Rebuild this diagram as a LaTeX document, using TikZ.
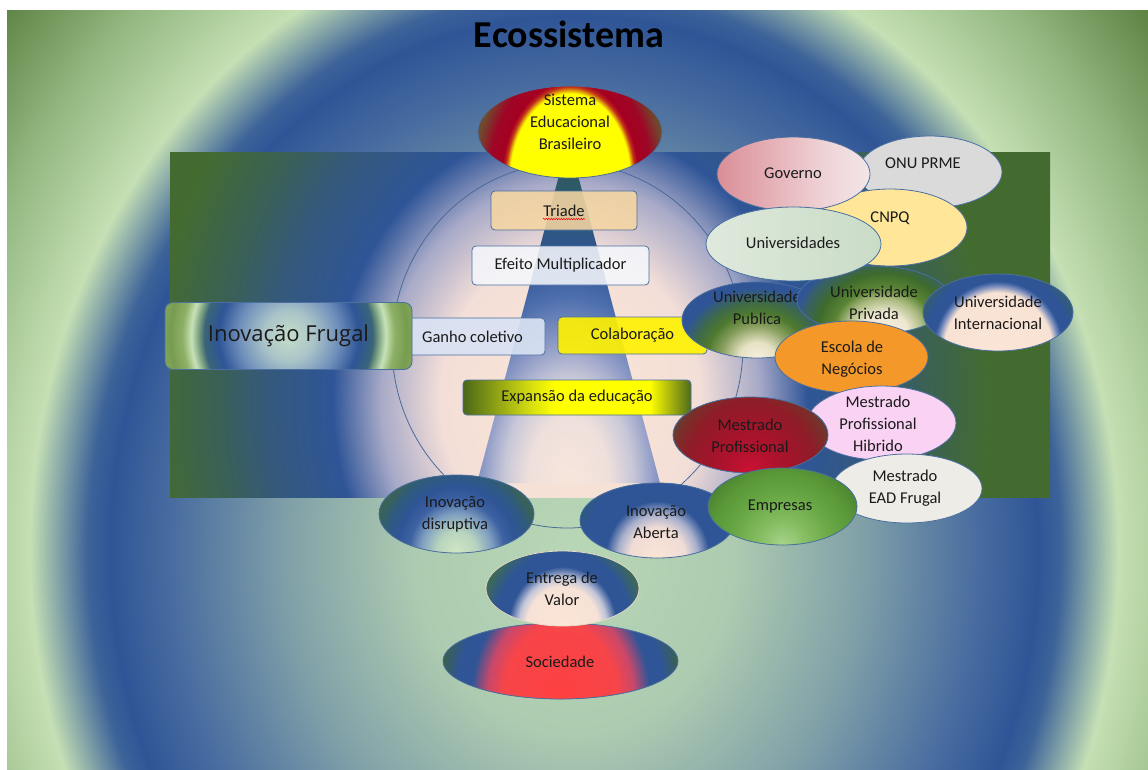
\documentclass[tikz,border=0pt]{standalone}
\usepackage{fontspec}
\setmainfont{Carlito}
\newfontfamily\frugalfont{Open Sans}
\usetikzlibrary{shapes.geometric,decorations.pathmorphing}

\definecolor{edgec}{HTML}{4A6FA0}
\definecolor{txtc}{HTML}{1A1A1A}
\definecolor{blueC}{HTML}{2F5597}
\definecolor{lgreen}{HTML}{C5E0B4}
\definecolor{peach}{HTML}{FBE5D6}
% background
\definecolor{bgA}{HTML}{B8D7B6}
\definecolor{bgB}{HTML}{ADCBB0}
\definecolor{bgC}{HTML}{80A0A8}
\definecolor{bgD}{HTML}{4A6EA0}
\definecolor{bgE}{HTML}{3D6399}
\definecolor{bgF}{HTML}{93B881}
\definecolor{bgG}{HTML}{5F8547}
\definecolor{bgH}{HTML}{56803E}
\pgfdeclareradialshading{bgsh}{\pgfpoint{0bp}{0bp}}{color(0bp)=(bgA);color(5bp)=(bgB);color(9bp)=(bgC);color(12.5bp)=(bgD);color(14.5bp)=(blueC);color(15.2bp)=(bgE);color(17bp)=(lgreen);color(20bp)=(bgF);color(23bp)=(bgG);color(25bp)=(bgH);color(50bp)=(bgH)}
% rectangle
\definecolor{rcB}{HTML}{F4DFD8}
\definecolor{rcC}{HTML}{A8AAC8}
\definecolor{rcD}{HTML}{34597C}
\definecolor{rcE}{HTML}{3A6058}
\definecolor{rcF}{HTML}{436B30}
\pgfdeclareradialshading{rectsh}{\pgfpoint{0bp}{0bp}}{color(0bp)=(peach);color(6bp)=(rcB);color(8.75bp)=(rcC);color(11bp)=(blueC);color(14bp)=(rcD);color(16.2bp)=(rcE);color(19.4bp)=(rcF);color(50bp)=(rcF)}
% trapezoid
\definecolor{tpA}{HTML}{F8E6DC}
\definecolor{tpB}{HTML}{EFE0DC}
\definecolor{tpC}{HTML}{C9C8D8}
\definecolor{tpD}{HTML}{8896C4}
\definecolor{tpE}{HTML}{4F70AE}
\definecolor{tpF}{HTML}{2E5870}
\definecolor{tpG}{HTML}{2E5A5E}
\pgfdeclareradialshading{trapsh}{\pgfpoint{0bp}{0bp}}{color(0bp)=(tpA);color(5bp)=(tpB);color(8bp)=(tpC);color(11bp)=(tpD);color(14bp)=(tpE);color(17bp)=(blueC);color(21bp)=(tpF);color(24bp)=(tpG);color(50bp)=(tpG)}
% sistema
\definecolor{sisO}{HTML}{C0301A}
\definecolor{sisR}{HTML}{A50021}
\definecolor{sisR2}{HTML}{9E0626}
\definecolor{sisB}{HTML}{6E4A2E}
\pgfdeclareradialshading{sissh}{\pgfpoint{0bp}{0bp}}{color(0bp)=(yellow);color(12.6bp)=(yellow);color(13.6bp)=(sisO);color(14.3bp)=(sisR);color(17bp)=(sisR2);color(20bp)=(sisB);color(50bp)=(sisB)}
% universidade publica
\definecolor{unA}{HTML}{F6EEE0}
\definecolor{unB}{HTML}{E6E2C4}
\definecolor{unC}{HTML}{8AA060}
\definecolor{unD}{HTML}{4E7A2E}
\definecolor{unE}{HTML}{3F6A48}
\definecolor{unF}{HTML}{2E5A72}
\pgfdeclareradialshading{unish}{\pgfpoint{0bp}{0bp}}{color(0bp)=(unA);color(3.8bp)=(unB);color(7.7bp)=(unC);color(10.8bp)=(unD);color(13.5bp)=(unE);color(16.9bp)=(blueC);color(19.2bp)=(blueC);color(23bp)=(unF);color(50bp)=(unF)}
% universidade privada
\definecolor{prB}{HTML}{EEE8D2}
\definecolor{prC}{HTML}{A9B97E}
\definecolor{prD}{HTML}{5A8434}
\definecolor{prE}{HTML}{3E6B2C}
\definecolor{prF}{HTML}{38606A}
\pgfdeclareradialshading{prish}{\pgfpoint{0bp}{0bp}}{color(0bp)=(unA);color(6bp)=(prB);color(10bp)=(prC);color(13bp)=(prD);color(17bp)=(prE);color(21bp)=(prF);color(23bp)=(blueC);color(50bp)=(blueC)}
% internacional
\definecolor{inA}{HTML}{F8E2D4}
\definecolor{inB}{HTML}{6A82B8}
\definecolor{inC}{HTML}{35606A}
\definecolor{inD}{HTML}{3A6458}
\pgfdeclareradialshading{intsh}{\pgfpoint{0bp}{0bp}}{color(0bp)=(peach);color(14.5bp)=(inA);color(16.3bp)=(inB);color(17.3bp)=(blueC);color(20bp)=(blueC);color(23bp)=(inC);color(25bp)=(inD);color(50bp)=(inD)}
% mestrado profissional
\definecolor{mpA}{HTML}{CC1236}
\definecolor{mpB}{HTML}{B3122D}
\definecolor{mpC}{HTML}{A0152A}
\definecolor{mpD}{HTML}{8E1D28}
\definecolor{mpE}{HTML}{7A2E2A}
\definecolor{mpF}{HTML}{55483A}
\pgfdeclareradialshading{mpsh}{\pgfpoint{0bp}{0bp}}{color(0bp)=(mpA);color(5bp)=(mpB);color(10bp)=(mpC);color(15bp)=(mpD);color(18bp)=(mpE);color(21bp)=(mpF);color(50bp)=(mpF)}
% empresas
\definecolor{emA}{HTML}{A8D48C}
\definecolor{emB}{HTML}{86BD62}
\definecolor{emC}{HTML}{6AA946}
\definecolor{emD}{HTML}{5A9838}
\definecolor{emE}{HTML}{4C8530}
\pgfdeclareradialshading{emsh}{\pgfpoint{0bp}{0bp}}{color(0bp)=(emA);color(6bp)=(emB);color(12bp)=(emC);color(18bp)=(emD);color(22bp)=(emE);color(50bp)=(emE)}
% disruptiva
\definecolor{diA}{HTML}{D2E8C4}
\definecolor{diB}{HTML}{B8D4BE}
\definecolor{diC}{HTML}{7F9EC0}
\definecolor{diD}{HTML}{3E62A2}
\definecolor{diE}{HTML}{2F5A80}
\definecolor{diF}{HTML}{3A6256}
\pgfdeclareradialshading{dish}{\pgfpoint{0bp}{0bp}}{color(0bp)=(diA);color(5bp)=(diB);color(9bp)=(diC);color(12bp)=(diD);color(15bp)=(blueC);color(18bp)=(diE);color(21bp)=(diF);color(50bp)=(diF)}
% aberta
\definecolor{abB}{HTML}{F0DCD6}
\definecolor{abC}{HTML}{A8B0CC}
\definecolor{abD}{HTML}{2E5A7A}
\pgfdeclareradialshading{absh}{\pgfpoint{0bp}{0bp}}{color(0bp)=(peach);color(7bp)=(abB);color(10bp)=(abC);color(13bp)=(blueC);color(19bp)=(blueC);color(22bp)=(abD);color(50bp)=(abD)}
% entrega
\definecolor{enB}{HTML}{F6E2D6}
\definecolor{enC}{HTML}{C0C4D8}
\definecolor{enD}{HTML}{3D6A56}
\definecolor{enE}{HTML}{E6DCC8}
\pgfdeclareradialshading{ensh}{\pgfpoint{0bp}{0bp}}{color(0bp)=(peach);color(9bp)=(enB);color(11bp)=(enC);color(13.5bp)=(blueC);color(17bp)=(blueC);color(21bp)=(enD);color(50bp)=(enD)}
% sociedade
\definecolor{soA}{HTML}{FF4040}
\definecolor{soB}{HTML}{F74549}
\definecolor{soC}{HTML}{C8486A}
\definecolor{soD}{HTML}{3A6050}
\pgfdeclareradialshading{sosh}{\pgfpoint{0bp}{0bp}}{color(0bp)=(soA);color(10.4bp)=(soB);color(13.3bp)=(soC);color(16.2bp)=(blueC);color(18.75bp)=(blueC);color(21.9bp)=(soD);color(50bp)=(soD)}
% inovacao frugal
\definecolor{frA}{HTML}{C5DEC9}
\definecolor{frB}{HTML}{AAC4C8}
\definecolor{frC}{HTML}{6F8FBB}
\definecolor{frD}{HTML}{3A6478}
\definecolor{frE}{HTML}{7AA080}
\definecolor{frF}{HTML}{C8E2B8}
\definecolor{frG}{HTML}{8DB066}
\definecolor{frH}{HTML}{779C50}
\definecolor{frI}{HTML}{86A860}
\pgfdeclareradialshading{frsh}{\pgfpoint{0bp}{0bp}}{color(0bp)=(frA);color(4.8bp)=(frB);color(9.6bp)=(frC);color(13.5bp)=(blueC);color(16.2bp)=(frD);color(17.3bp)=(frE);color(18.7bp)=(frF);color(20.4bp)=(frG);color(22.7bp)=(frH);color(25bp)=(frI);color(50bp)=(frI)}
% flat / linear
\definecolor{triC}{HTML}{F6D6A2}
\definecolor{efC}{HTML}{F4F6FB}
\definecolor{gaC}{HTML}{D9E2F3}
\definecolor{exL}{HTML}{4A6818}
\definecolor{exM}{HTML}{D8DF10}
\definecolor{exR}{HTML}{50691C}
\pgfdeclarehorizontalshading{expsh}{100bp}{color(0bp)=(exL);color(25bp)=(exL);color(40bp)=(exM);color(45bp)=(yellow);color(66bp)=(yellow);color(75bp)=(exR);color(100bp)=(exR)}
\definecolor{goA}{HTML}{DA8E97}
\definecolor{goB}{HTML}{EFD3D6}
\definecolor{goC}{HTML}{F3E6E8}
\pgfdeclarehorizontalshading{govsh}{100bp}{color(0bp)=(goA);color(25bp)=(goA);color(60bp)=(goB);color(75bp)=(goC);color(100bp)=(goC)}
\definecolor{usA}{HTML}{DFE9DC}
\definecolor{usB}{HTML}{C9DCC6}
\pgfdeclarehorizontalshading{ussh}{100bp}{color(0bp)=(usA);color(25bp)=(usA);color(75bp)=(usB);color(100bp)=(usB)}
\definecolor{onuC}{HTML}{DADADA}
\definecolor{cnC}{HTML}{FFE699}
\definecolor{esC}{HTML}{F5982A}
\definecolor{hiC}{HTML}{FAD2F4}
\definecolor{eaC}{HTML}{EEECE6}
\definecolor{circC}{HTML}{4A6A98}

\tikzset{
  ell/.style={ellipse, draw=edgec, line width=0.8pt, inner sep=0pt},
  esize/.style 2 args={minimum width=#1pt, minimum height=#2pt},
  pp/.style n args={3}{path picture={\shade[shading=#1] (path picture bounding box.south) ellipse (#2 and #3);}},
  txt/.style={text=txtc, font=\fontsize{16.5}{22}\selectfont, align=center, inner sep=0pt},
  box/.style={rectangle, rounded corners=4pt, draw=edgec, line width=0.8pt, inner sep=0pt,
    text=txtc, text opacity=1, font=\fontsize{16.5}{22}\selectfont},
  wavy/.style={draw=red, line width=0.5pt, decorate, decoration={snake, amplitude=0.7pt, segment length=2.5pt}},
}

\begin{document}
\begin{tikzpicture}[x=1pt,y=1pt]
\useasboundingbox (0,0) rectangle (1148,-769);
\fill[white] (0,0) rectangle (1148,-769);
% outer background
\begin{scope}
  \clip (7,-10) rectangle (1149,-770);
  \shade[shading=bgsh] (574,-550) ellipse (800 and 920);
\end{scope}
% inner rectangle
\begin{scope}
  \clip (170,-152) rectangle (1050,-497);
  \shade[shading=rectsh] (570,-400) ellipse (540 and 624);
\end{scope}
% circle
\draw[circC, line width=0.8pt] (567.5,-345.5) ellipse (175.5 and 182.5);
% trapezoid
\begin{scope}
  \clip (561,-168) -- (576,-168) -- (660,-483) -- (477,-483) -- cycle;
  \shade[shading=trapsh] (568.5,-483) ellipse (200 and 330);
\end{scope}

\node[font=\bfseries\fontsize{38}{40}\selectfont, text=black, anchor=base, inner sep=0pt] (title) at (569,-47) {Ecossistema};

% Sistema
\node[ell, esize={184}{92}, fill=sisB, pp={sissh}{119}{168}] (sis) at (570,-132) {};
\node[txt] (sist) at (570,-122) {Sistema\\Educacional\\Brasileiro};

% boxes
\node[box, minimum width=146pt, minimum height=39pt, fill=triC, fill opacity=0.88] (tri) at (564,-210.5) {Triade};
\draw[wavy] ([xshift=-21pt,yshift=-8.5pt]tri.center) -- ([xshift=21pt,yshift=-8.5pt]tri.center);
\node[box, minimum width=177pt, minimum height=39pt, fill=efC, fill opacity=0.88] (efe) at (560.5,-265.5) {Efeito Multiplicador};
\node[box, minimum width=145pt, minimum height=37pt, fill=gaC, fill opacity=0.92] (gan) at (472.5,-336.5) {Ganho coletivo};
\node[box, minimum width=149pt, minimum height=37pt, fill=yellow, fill opacity=0.9] (col) at (632.5,-335.5) {Colaboração};
\node[box, minimum width=228pt, minimum height=35pt, shading=expsh] (exp) at (577,-397.5) {Expansão da educação};
\node[box, rounded corners=8pt, minimum width=247pt, minimum height=67pt, fill=frI,
  path picture={\shade[shading=frsh] (path picture bounding box.center) circle (130);},
  font=\frugalfont\fontsize{22}{24}\selectfont] (fru) at (288.5,-336) {Inovação Frugal};

% right cluster
\node[ell, esize={144}{72}, fill=onuC] (onu) at (930,-172) {};
\node[txt] (onut) at (923,-163) {ONU PRME};
\node[ell, esize={154}{77}, fill=cnC] (cnp) at (890,-227.5) {};
\node[txt] (cnpt) at (890,-218) {CNPQ};
\node[ell, esize={153}{74}, shading=govsh] (gov) at (793.5,-174) {};
\node[txt] (govt) at (793,-173) {Governo};
\node[ell, esize={150}{76}, fill=unF, pp={unish}{117}{104}] (pub) at (757,-320) {};
\node[txt] (pubt) at (757,-308) {Universidade\\Publica};
\node[ell, esize={154}{68}, fill=blueC,
  path picture={\shade[shading=prish] ([xshift=10pt]path picture bounding box.south) ellipse (100 and 90);}] (pri) at (874,-300) {};
\node[txt] (prit) at (874,-302.5) {Universidade\\Privada};
\node[ell, esize={175}{74}, shading=ussh] (uni) at (793.5,-244) {};
\node[txt] (unit) at (793,-243) {Universidades};
\node[ell, esize={150}{77}, fill=inD, pp={intsh}{94}{101}] (int) at (998,-312.5) {};
\node[txt] (intt) at (998,-312.5) {Universidade\\Internacional};
\node[ell, esize={153}{72}, fill=esC] (esc) at (851.5,-357) {};
\node[txt] (esct) at (852,-359) {Escola de\\Negócios};
\node[ell, esize={149}{74}, fill=hiC] (hib) at (881.5,-423) {};
\node[txt] (hibt) at (878,-424) {Mestrado\\Profissional\\Hibrido};
\node[ell, esize={150}{69}, fill=eaC] (ead) at (907,-488.5) {};
\node[txt] (eadt) at (905,-488) {Mestrado\\EAD Frugal};
\node[ell, esize={155}{76}, fill=mpF, pp={mpsh}{110}{120}] (mpr) at (750.5,-435) {};
\node[txt] (mprt) at (750,-436) {Mestrado\\Profissional};

% bottom
\node[ell, esize={155}{78}, fill=diF, pp={dish}{100}{110}] (dis) at (456.5,-514) {};
\node[txt] (dist) at (455,-514) {Inovação\\disruptiva};
\node[ell, esize={155}{75}, fill=abD, pp={absh}{100}{110}] (abe) at (657.5,-520.5) {};
\node[txt] (abet) at (656,-522.5) {Inovação\\Aberta};
\node[ell, esize={149}{77}, fill=emE, pp={emsh}{100}{100}] (emp) at (782.5,-506.5) {};
\node[txt] (empt) at (780,-507) {Empresas};
\node[ell, esize={235}{76}, fill=soD, pp={sosh}{138}{180}] (soc) at (560.5,-661) {};
\node[txt] (soct) at (560,-662) {Sociedade};
\node[ell, draw=enE, esize={153}{75}, fill=enD, pp={ensh}{100}{110}] (ent) at (562.5,-588.5) {};
\node[txt] (entt) at (562,-589) {Entrega de\\Valor};
\end{tikzpicture}
\end{document}
